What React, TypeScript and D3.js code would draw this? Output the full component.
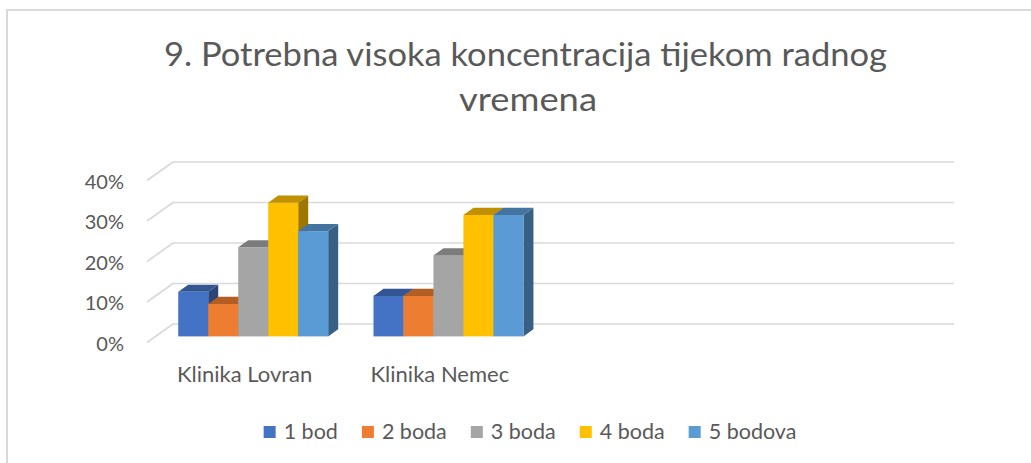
import React, { useMemo } from "react";
import * as d3 from "d3";

// ---- data ----
const titleLines = ["9. Potrebna visoka koncentracija tijekom radnog", "vremena"];
const categories = ["Klinika Lovran", "Klinika Nemec", "", ""];
const seriesNames = ["1 bod", "2 boda", "3 boda", "4 boda", "5 bodova"];
const seriesColors = ["#4472C4", "#ED7D31", "#A5A5A5", "#FFC000", "#5B9BD5"];
const lovranValues = [0.11, 0.08, 0.22, 0.33, 0.26];
const nemecValues = [0.1, 0.1, 0.2, 0.3, 0.3];
const emptyValues: number[] = [];
const tickValues = [0, 0.1, 0.2, 0.3, 0.4];

const valuesByCategory = [lovranValues, nemecValues, emptyValues, emptyValues];

const W = 1031;
const H = 463;
const FONT = "Lato, 'Open Sans', sans-serif";
const TEXT = "#595959";
const GRID = "#d9d9d9";

// 3D geometry
const X0 = 147; // front-left of floor
const DEPTH_DX = 26;
const DEPTH_DY = 18.5;
const WALL_W = 781;
const BAR_D0 = 0.33;
const BAR_D1 = 0.715;

function measure(text: string, font: string): number {
  if (typeof document === "undefined") return text.length * 10;
  const c = document.createElement("canvas");
  const ctx = c.getContext("2d");
  if (!ctx) return text.length * 10;
  ctx.font = font;
  return ctx.measureText(text).width;
}

export default function App() {
  const yScale = d3.scaleLinear().domain([0, 0.4]).range([324, 162]);
  const proj = (x: number, v: number, d: number): [number, number] => [
    X0 + x + DEPTH_DX * d,
    yScale(v) + DEPTH_DY * (1 - d),
  ];
  const xBand = d3
    .scaleBand<number>()
    .domain(d3.range(categories.length))
    .range([0, WALL_W])
    .paddingInner(0.232)
    .paddingOuter(0.116);
  const sBand = d3
    .scaleBand<number>()
    .domain(d3.range(seriesNames.length))
    .range([0, xBand.bandwidth()]);

  const pts = (arr: [number, number][]) => arr.map((p) => p.join(",")).join(" ");

  const bars: React.ReactNode[] = [];
  valuesByCategory.forEach((vals, ci) => {
    vals.forEach((v, si) => {
      const x0 = (xBand(ci) ?? 0) + (sBand(si) ?? 0);
      const x1 = x0 + sBand.bandwidth();
      const base = d3.color(seriesColors[si])!;
      const top = base.darker(0.8).formatHex();
      const side = base.darker(1.35).formatHex();
      const f0 = proj(x0, 0, BAR_D0);
      const f1 = proj(x1, v, BAR_D0);
      bars.push(
        <g key={`${ci}-${si}`}>
          <polygon
            points={pts([proj(x1, 0, BAR_D0), proj(x1, v, BAR_D0), proj(x1, v, BAR_D1), proj(x1, 0, BAR_D1)])}
            fill={side}
          />
          <rect x={f0[0]} y={f1[1]} width={f1[0] - f0[0]} height={f0[1] - f1[1]} fill={seriesColors[si]} />
          <polygon
            points={pts([proj(x0, v, BAR_D0), proj(x1, v, BAR_D0), proj(x1, v, BAR_D1), proj(x0, v, BAR_D1)])}
            fill={top}
          />
        </g>
      );
    });
  });

  const fmt = d3.format(".0%");

  // legend layout
  const legendSize = 21.5;
  const legendFont = `${legendSize}px ${FONT}`;
  const legend = useMemo(() => {
    const sq = 12;
    const gapSqText = 8;
    const gapItem = 24;
    const widths = seriesNames.map((n) => measure(n, legendFont));
    const itemW = widths.map((w) => sq + gapSqText + w);
    const total = d3.sum(itemW) + gapItem * (seriesNames.length - 1);
    let x = 530 - total / 2;
    return seriesNames.map((n, i) => {
      const item = { name: n, x, color: seriesColors[i], sq, gap: gapSqText };
      x += itemW[i] + gapItem;
      return item;
    });
  }, []);

  return (
    <svg
      width={W}
      height={H}
      style={{ position: "absolute", left: 0, top: 0, background: "#fff" }}
      fontFamily={FONT}
    >
      <rect x={7} y={10} width={W + 20} height={H + 20} fill="#fff" stroke={GRID} strokeWidth={2} />

      {/* title */}
      <text x={525.5} y={66} textAnchor="middle" fontSize={32} fill={TEXT} textLength={723} lengthAdjust="spacingAndGlyphs">
        {titleLines[0]}
      </text>
      <text x={528} y={111} textAnchor="middle" fontSize={32} fill={TEXT} textLength={138} lengthAdjust="spacingAndGlyphs">
        {titleLines[1]}
      </text>

      {/* gridlines: back wall + side wall */}
      {tickValues.map((t) => {
        const b0 = proj(0, t, 1);
        const b1 = proj(WALL_W, t, 1);
        const f = proj(0, t, 0);
        return (
          <g key={t}>
            <line x1={b0[0]} y1={b0[1]} x2={b1[0]} y2={b1[1]} stroke={GRID} strokeWidth={1.6} />
            <line x1={f[0]} y1={f[1]} x2={b0[0]} y2={b0[1]} stroke={GRID} strokeWidth={1.6} />
          </g>
        );
      })}

      {/* tick labels */}
      {tickValues.map((t) => {
        const f = proj(0, t, 0);
        return (
          <text key={t} x={124} y={f[1]} textAnchor="end" dominantBaseline="central" fontSize={20} fill={TEXT}>
            {fmt(t)}
          </text>
        );
      })}

      {bars}

      {/* category labels */}
      {categories.map((c, ci) =>
        c ? (
          <text
            key={ci}
            x={proj((xBand(ci) ?? 0) + xBand.bandwidth() / 2, 0, 0)[0]}
            y={382}
            textAnchor="middle"
            fontSize={22}
            fill={TEXT}
          >
            {c}
          </text>
        ) : null
      )}

      {/* legend */}
      {legend.map((it) => (
        <g key={it.name}>
          <rect x={it.x} y={432 - it.sq / 2} width={it.sq} height={it.sq} fill={it.color} />
          <text x={it.x + it.sq + it.gap} y={439} fontSize={legendSize} fill={TEXT}>
            {it.name}
          </text>
        </g>
      ))}
    </svg>
  );
}
